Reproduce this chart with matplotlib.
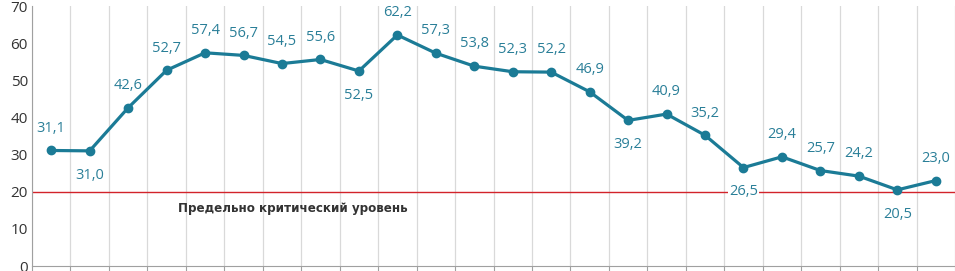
import matplotlib
matplotlib.use("Agg")
import matplotlib.pyplot as plt
import numpy as np

values = [31.1, 31.0, 42.6, 52.7, 57.4, 56.7, 54.5, 55.6, 52.5, 62.2, 57.3, 53.8,
          52.3, 52.2, 46.9, 39.2, 40.9, 35.2, 26.5, 29.4, 25.7, 24.2, 20.5, 23.0]
label_below = [False, True, False, False, False, False, False, False, True, False, False, False,
               False, False, False, True, False, False, True, False, False, False, True, False]
critical_level = 20
critical_label = "Предельно критический уровень"
yticks = [0, 10, 20, 30, 40, 50, 60, 70]

W, H = 955, 271
fig = plt.figure(figsize=(W/100, H/100), dpi=100)
ax = fig.add_axes([32/W, 1-266/H, (955-32)/W, (266-6)/H])

n = len(values)
x = np.arange(n)
line_c = "#1B7B96"
text_c = "#2A7F98"

ax.axhline(critical_level, color="#D2232A", lw=1.0, zorder=2)
ax.plot(x, values, color=line_c, lw=2.3, marker="o", ms=6, zorder=3)

for xi, v, below in zip(x, values, label_below):
    s = f"{v:.1f}".replace(".", ",")
    off = -17.5 if below else 16
    t = ax.annotate(s, (xi, v), xytext=(0, off), textcoords="offset points",
                    ha="center", va="center", fontsize=10.5, color=text_c,
                    family=["Open Sans", "DejaVu Sans"], zorder=4)
    if below:
        t.set_bbox(dict(facecolor="white", edgecolor="none", pad=1))

ax.text(6.29, 15.4, critical_label, ha="center", va="center",
        fontsize=9.5, fontweight="bold", fontstretch="condensed", color="#333333",
        family=["DejaVu Sans"])

ax.set_xlim(-0.5, n - 0.5)
ax.set_ylim(0, 70)
ax.set_yticks(yticks)
ax.set_yticklabels([str(t) for t in yticks], family=["Open Sans", "DejaVu Sans"],
                   fontsize=11, color="#333333")
ax.tick_params(axis="y", length=0, pad=3)

bounds = np.arange(-0.5, n + 0.5, 1.0)
ax.set_xticks(bounds)
ax.set_xticklabels([])
ax.tick_params(axis="x", length=4, color="#A0A0A0", direction="out")
ax.grid(axis="x", color="#D9D9D9", lw=0.9)
ax.set_axisbelow(True)

for sp in ["top", "right"]:
    ax.spines[sp].set_visible(False)
ax.spines["left"].set_color("#A0A0A0")
ax.spines["bottom"].set_color("#A0A0A0")

fig.savefig("out.png", dpi=100)
